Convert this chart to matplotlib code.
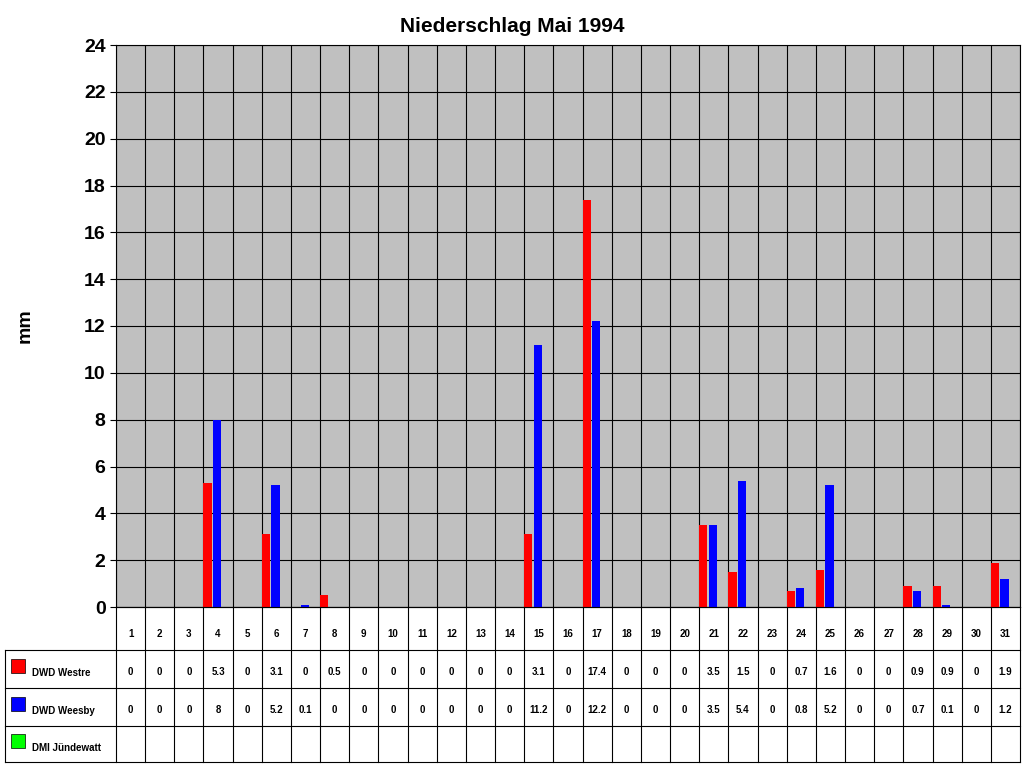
import matplotlib
matplotlib.use("Agg")
import matplotlib.pyplot as plt
from matplotlib.patches import Rectangle
plt.rcParams['font.family'] = ['Liberation Sans', 'DejaVu Sans']

days = list(range(1, 32))
westre = [0,0,0,5.3,0,3.1,0,0.5,0,0,0,0,0,0,3.1,0,17.4,0,0,0,3.5,1.5,0,0.7,1.6,0,0,0.9,0.9,0,1.9]
weesby = [0,0,0,8,0,5.2,0.1,0,0,0,0,0,0,0,11.2,0,12.2,0,0,0,3.5,5.4,0,0.8,5.2,0,0,0.7,0.1,0,1.2]
juendewatt = [None]*31
series = [("DWD Westre", westre, "#ff0000"), ("DWD Weesby", weesby, "#0000ff"), ("DMI Jündewatt", juendewatt, "#00ff00")]

W, H = 1024, 768
fig = plt.figure(figsize=(10.24, 7.68), dpi=100)
L, R, T, B = 116, 1020, 45, 607
ax = fig.add_axes([L/W, 1-B/H, (R-L)/W, (B-T)/H])
ax.set_facecolor("#c0c0c0")
n = len(days)
ax.set_xlim(0, n)
ax.set_ylim(0, 24)
offs = [-0.36, -0.03, 0.3]
for (name, vals, col), o in zip(series, offs):
    xs = [i + 0.5 + o for i in range(n) if vals[i] is not None]
    ys = [v for v in vals if v is not None]
    if ys:
        ax.bar(xs, ys, width=0.28, color=col, zorder=3)
for i in range(n + 1):
    ax.axvline(i, color="black", lw=0.8, zorder=1)
ax.set_yticks(range(0, 25, 2))
ax.yaxis.grid(True, color="black", lw=0.8, zorder=1)
ax.set_axisbelow(True)
ax.set_xticks([])
ax.tick_params(axis="y", labelsize=14, length=4)
for lab in ax.get_yticklabels():
    lab.set_fontweight("bold")
for s in ax.spines.values():
    s.set_color("black")
fig.text(25/W, 1-326/H, "mm", rotation=90, ha="center", va="center", fontsize=14, fontweight="bold")
fig.text(0.5, 1-27/H, "Niederschlag Mai 1994", ha="center", va="center", fontsize=15, fontweight="bold")

# data table
tx = fig.add_axes([0, 0, 1, 1], facecolor="none")
tx.set_xlim(0, W); tx.set_ylim(H, 0); tx.axis("off")
rows = [607, 650, 688, 726, 762]
cw = (R - L) / n
lk = dict(color="black", lw=0.8)
tx.plot([L, R], [rows[0], rows[0]], **lk)
for y in rows[1:]:
    tx.plot([5, R], [y, y], **lk)
tx.plot([5, 5], [rows[1], rows[-1]], **lk)
for i in range(n + 1):
    x = L + i * cw
    tx.plot([x, x], [rows[0], rows[-1]], **lk)
for i, d in enumerate(days):
    tx.text(L + (i + 0.5) * cw, 634, str(d), ha="center", va="center", fontsize=7, fontweight="bold")
for r, (name, vals, col) in enumerate(series):
    yc = (rows[r + 1] + rows[r + 2]) / 2
    tx.add_patch(Rectangle((11, yc - 10), 14, 14, facecolor=col, edgecolor="black", lw=0.5))
    tx.text(32, yc + 4, name, ha="left", va="center", fontsize=7, fontweight="bold")
    for i, v in enumerate(vals):
        if v is not None:
            tx.text(L + (i + 0.5) * cw, yc + 3, f"{v:g}", ha="center", va="center", fontsize=7, fontweight="bold")

fig.savefig("out.png", dpi=100)
